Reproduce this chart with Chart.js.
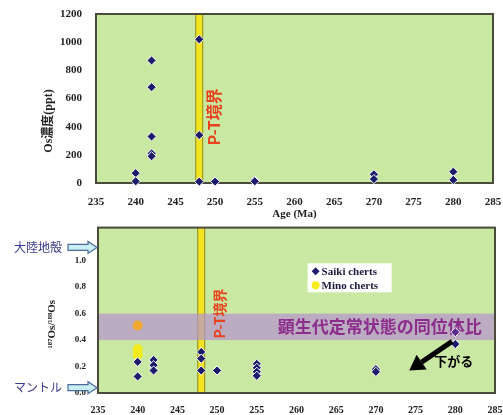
<!DOCTYPE html>
<html>
<head>
<meta charset="utf-8">
<script src="https://cdn.jsdelivr.net/npm/chart.js@4/dist/chart.umd.min.js"></script>
<style>
  html, body { margin: 0; padding: 0; background: #fff; }
  #wrap { position: relative; width: 503px; height: 415px; overflow: hidden; background: #fff; }
  #osChart { position: absolute; left: 0; top: 0; }
  #ratioChart { position: absolute; left: 0; top: 222px; }
</style>
</head>
<body>
<div id="wrap">
  <canvas id="osChart" width="503" height="222" style="width:503px;height:222px"></canvas>
  <canvas id="ratioChart" width="503" height="193" style="width:503px;height:193px"></canvas>
</div>
<script>
// ---- data ----
const ageTicks = [235, 240, 245, 250, 255, 260, 265, 270, 275, 280, 285];
const concTicks = [0, 200, 400, 600, 800, 1000, 1200];
const ratioTicks = [0, 0.2, 0.4, 0.6, 0.8, 1.0];

// Os concentration (ppt), Saiki cherts
const osAges = [240, 240, 242, 242, 242, 242, 242, 248, 248, 248, 250, 255, 255, 270, 270, 280, 280];
const osPpt  = [70, 12, 870, 680, 330, 210, 190, 1020, 340, 10, 10, 18, 12, 62, 28, 80, 22];

// 187Os/188Os ratios
const saikiAges   = [240, 240, 242, 242, 242, 248, 248, 248, 250, 255, 255, 255, 255, 270, 270, 280, 280];
const saikiRatios = [0.235, 0.125, 0.25, 0.21, 0.17, 0.31, 0.26, 0.17, 0.17, 0.22, 0.19, 0.16, 0.13, 0.18, 0.16, 0.46, 0.37];
const minoAges   = [240, 240, 240];
const minoRatios = [0.51, 0.33, 0.29];

const ptAge = 248;                 // P-T boundary
const ptBand = [247.5, 248.5];
const steadyState = [0.4, 0.6];    // Phanerozoic steady-state ratio range
const crustRatio = 1.10;
const mantleRatio = 0.04;

// ---- styles ----
const SERIF = "'Liberation Serif', 'DejaVu Serif', serif";
const JP = "'Noto Sans CJK JP', sans-serif";
const MIX = "'Liberation Serif', 'Noto Sans CJK JP', serif";
const plotGreen = '#c9e8a2';
const frameColor = '#4a4a3c';
const boundaryYellow = '#f2e41e';
const navy = '#1c1c6b';
const minoYellow = '#f4ec1c';
const ptRed = '#e8421e';
const bandColor = 'rgba(183,147,208,0.70)';

function paintBackground(chart) {
  const {ctx, chartArea: a} = chart;
  ctx.save();
  ctx.fillStyle = plotGreen;
  ctx.fillRect(a.left, a.top, a.width, a.height);
  ctx.restore();
}

function paintBoundary(chart) {
  const {ctx, chartArea: a, scales: {x}} = chart;
  const x0 = x.getPixelForValue(ptBand[0]);
  const x1 = x.getPixelForValue(ptBand[1]);
  ctx.save();
  ctx.fillStyle = boundaryYellow;
  ctx.fillRect(x0, a.top, x1 - x0, a.height);
  ctx.strokeStyle = '#8a8a2e';
  ctx.lineWidth = 1;
  ctx.beginPath();
  ctx.moveTo(x0 + 0.5, a.top); ctx.lineTo(x0 + 0.5, a.bottom);
  ctx.moveTo(x1 - 0.5, a.top); ctx.lineTo(x1 - 0.5, a.bottom);
  ctx.stroke();
  ctx.restore();
}

function paintFrame(chart) {
  const {ctx, chartArea: a} = chart;
  ctx.save();
  ctx.strokeStyle = frameColor;
  ctx.lineWidth = 2;
  ctx.strokeRect(a.left, a.top, a.width, a.height);
  ctx.restore();
}

function rotatedText(ctx, text, x, y, font, color) {
  ctx.save();
  ctx.translate(x, y);
  ctx.rotate(-Math.PI / 2);
  ctx.font = font;
  ctx.fillStyle = color;
  ctx.textAlign = 'center';
  ctx.textBaseline = 'middle';
  ctx.fillText(text, 0, 0);
  ctx.restore();
}

function blockArrow(ctx, xTail, xTip, y) {
  const shaft = 3, head = 6, headLen = 9;
  ctx.save();
  ctx.beginPath();
  ctx.moveTo(xTail, y - shaft);
  ctx.lineTo(xTip - headLen, y - shaft);
  ctx.lineTo(xTip - headLen, y - head);
  ctx.lineTo(xTip, y);
  ctx.lineTo(xTip - headLen, y + head);
  ctx.lineTo(xTip - headLen, y + shaft);
  ctx.lineTo(xTail, y + shaft);
  ctx.closePath();
  ctx.fillStyle = '#c9eef3';
  ctx.fill();
  ctx.strokeStyle = '#4a6a9a';
  ctx.lineWidth = 1.2;
  ctx.stroke();
  ctx.restore();
}

// fixes scale box sizes so the plot frames line up
function fixBox(size, isX) {
  return s => {
    if (isX) s.height = size; else s.width = size;
    s.paddingTop = 0; s.paddingBottom = 0; s.paddingLeft = 0; s.paddingRight = 0;
  };
}

function tickSetter(values) {
  return s => { s.ticks = values.map(v => ({value: v})); };
}

// ---- upper chart: Os concentration ----
const osDecor = {
  id: 'osDecor',
  beforeDatasetsDraw(chart) {
    const {ctx, chartArea: a, scales: {x, y}} = chart;
    paintBackground(chart);
    paintBoundary(chart);
    paintFrame(chart);
    rotatedText(ctx, 'P-T境界', x.getPixelForValue(ptAge) + 15, y.getPixelForValue(470), `bold 16px ${JP}`, ptRed);
    rotatedText(ctx, 'Os濃度(ppt)', a.left - 47, y.getPixelForValue(440), `bold 12px ${MIX}`, '#222');
  }
};

new Chart(document.getElementById('osChart'), {
  type: 'scatter',
  data: {
    datasets: [{
      label: 'Saiki cherts',
      data: osAges.map((v, i) => ({x: v, y: osPpt[i]})),
      pointStyle: 'rectRot',
      pointRadius: 4.6,
      backgroundColor: navy,
      borderColor: '#ffffff',
      borderWidth: 1,
      clip: false
    }]
  },
  options: {
    responsive: false,
    animation: false,
    events: [],
    layout: {padding: {left: 0, right: 10, top: 14, bottom: 0}},
    plugins: {legend: {display: false}, tooltip: {enabled: false}},
    scales: {
      x: {
        type: 'linear', min: 235, max: 285,
        afterBuildTicks: tickSetter(ageTicks),
        afterFit: fixBox(39, true),
        grid: {display: false, drawTicks: false},
        border: {display: false},
        ticks: {padding: 13, autoSkip: false, maxRotation: 0, color: '#222',
                font: {family: SERIF, size: 11, weight: 'bold'},
                callback: v => String(v)},
        title: {display: true, text: 'Age (Ma)', color: '#222',
                font: {family: SERIF, size: 11, weight: 'bold'}, padding: {top: 0, bottom: 1}}
      },
      y: {
        min: 0, max: 1200,
        afterBuildTicks: tickSetter(concTicks),
        afterFit: fixBox(96, false),
        grid: {display: false, drawTicks: false},
        border: {display: false},
        ticks: {padding: 14, color: '#222', font: {family: SERIF, size: 11, weight: 'bold'},
                callback: v => String(v)}
      }
    }
  },
  plugins: [osDecor]
});

// ---- lower chart: 187Os/188Os ----
const legendAnchor = {x: 261.4, y: 0.98};
const dropArrow = {from: [279.6, 0.39], to: [274.2, 0.17], label: '下がる', labelAt: [279.8, 0.245]};

const ratioDecor = {
  id: 'ratioDecor',
  beforeDatasetsDraw(chart) {
    const {ctx, chartArea: a, scales: {x, y}} = chart;
    paintBackground(chart);
    paintBoundary(chart);
    // steady-state band
    const yb0 = y.getPixelForValue(steadyState[1]);
    const yb1 = y.getPixelForValue(steadyState[0]);
    ctx.save();
    ctx.fillStyle = bandColor;
    ctx.fillRect(a.left, yb0, a.width, yb1 - yb0);
    ctx.restore();
    paintFrame(chart);

    ctx.save();
    ctx.font = `bold 17px ${JP}`;
    ctx.fillStyle = '#8c2d8c';
    ctx.textAlign = 'center';
    ctx.textBaseline = 'middle';
    ctx.fillText('顕生代定常状態の同位体比', x.getPixelForValue(270.5), y.getPixelForValue((steadyState[0] + steadyState[1]) / 2));
    ctx.restore();

    rotatedText(ctx, 'P-T境界', x.getPixelForValue(ptAge) + 18, y.getPixelForValue(0.6), `bold 14px ${JP}`, ptRed);
    rotatedText(ctx, '¹⁸⁷Os/¹⁸⁸Os', a.left - 46, y.getPixelForValue(0.52), `bold 11px ${SERIF}`, '#222');

    // reference arrows left of the axis
    [[crustRatio, '大陸地殻'], [mantleRatio, 'マントル']].forEach(([v, t]) => {
      const py = y.getPixelForValue(v);
      blockArrow(ctx, a.left - 30, a.left - 1, py);
      ctx.save();
      ctx.font = `12px ${JP}`;
      ctx.fillStyle = '#3b3b8e';
      ctx.textAlign = 'right';
      ctx.textBaseline = 'middle';
      ctx.fillText(t, a.left - 36, py);
      ctx.restore();
    });
  },
  afterDatasetsDraw(chart) {
    const {ctx, scales: {x, y}} = chart;
    // legend box
    const lx = x.getPixelForValue(legendAnchor.x);
    const ly = y.getPixelForValue(legendAnchor.y);
    ctx.save();
    ctx.fillStyle = '#ffffff';
    ctx.fillRect(lx, ly, 84, 29);
    const order = [0, 1];
    order.forEach((di, row) => {
      const ds = chart.data.datasets[di];
      const cy = ly + 8 + row * 14;
      const cx = lx + 8;
      ctx.fillStyle = ds.legendColor;
      ctx.beginPath();
      if (ds.pointStyle === 'rectRot') {
        ctx.moveTo(cx, cy - 4); ctx.lineTo(cx + 4, cy); ctx.lineTo(cx, cy + 4); ctx.lineTo(cx - 4, cy);
        ctx.closePath();
      } else {
        ctx.arc(cx, cy, 4, 0, Math.PI * 2);
      }
      ctx.fill();
      ctx.font = `bold 11px ${SERIF}`;
      ctx.fillStyle = '#1a1a40';
      ctx.textAlign = 'left';
      ctx.textBaseline = 'middle';
      ctx.fillText(ds.label, cx + 6, cy + 1);
    });
    ctx.restore();

    // "decreasing" arrow
    const p0 = [x.getPixelForValue(dropArrow.from[0]), y.getPixelForValue(dropArrow.from[1])];
    const p1 = [x.getPixelForValue(dropArrow.to[0]), y.getPixelForValue(dropArrow.to[1])];
    const ang = Math.atan2(p1[1] - p0[1], p1[0] - p0[0]);
    const headLen = 15, headW = 9;
    const bx = p1[0] - headLen * Math.cos(ang), by = p1[1] - headLen * Math.sin(ang);
    ctx.save();
    ctx.strokeStyle = '#000';
    ctx.lineWidth = 5;
    ctx.beginPath();
    ctx.moveTo(p0[0], p0[1]);
    ctx.lineTo(bx, by);
    ctx.stroke();
    ctx.fillStyle = '#000';
    ctx.beginPath();
    ctx.moveTo(p1[0], p1[1]);
    ctx.lineTo(bx + headW * Math.sin(ang), by - headW * Math.cos(ang));
    ctx.lineTo(bx - headW * Math.sin(ang), by + headW * Math.cos(ang));
    ctx.closePath();
    ctx.fill();
    ctx.font = `bold 13px ${JP}`;
    ctx.textAlign = 'center';
    ctx.textBaseline = 'middle';
    ctx.fillText(dropArrow.label, x.getPixelForValue(dropArrow.labelAt[0]), y.getPixelForValue(dropArrow.labelAt[1]));
    ctx.restore();
  }
};

const inBand = v => v >= steadyState[0] && v <= steadyState[1];

new Chart(document.getElementById('ratioChart'), {
  type: 'scatter',
  data: {
    datasets: [{
      label: 'Saiki cherts',
      data: saikiAges.map((v, i) => ({x: v, y: saikiRatios[i]})),
      pointStyle: 'rectRot',
      pointRadius: 4.6,
      legendColor: navy,
      backgroundColor: c => (c.raw && inBand(c.raw.y)) ? '#5a2a8c' : navy,
      borderColor: '#ffffff',
      borderWidth: 1,
      clip: false
    }, {
      label: 'Mino cherts',
      data: minoAges.map((v, i) => ({x: v, y: minoRatios[i]})),
      pointStyle: 'circle',
      pointRadius: 5,
      legendColor: minoYellow,
      backgroundColor: c => (c.raw && inBand(c.raw.y)) ? '#f0a830' : minoYellow,
      borderWidth: 0,
      clip: false
    }]
  },
  options: {
    responsive: false,
    animation: false,
    events: [],
    layout: {padding: {left: 0, right: 8, top: 1, bottom: 0}},
    plugins: {legend: {display: false}, tooltip: {enabled: false}},
    scales: {
      x: {
        type: 'linear', min: 235, max: 285,
        afterBuildTicks: tickSetter(ageTicks),
        afterFit: fixBox(22, true),
        grid: {display: false, drawTicks: false},
        border: {display: false},
        ticks: {padding: 11, autoSkip: false, maxRotation: 0, color: '#222',
                font: {family: SERIF, size: 10, weight: 'bold'},
                callback: v => String(v)}
      },
      y: {
        min: 0, max: 1.25,
        afterBuildTicks: tickSetter(ratioTicks),
        afterFit: fixBox(98, false),
        grid: {display: false, drawTicks: false},
        border: {display: false},
        ticks: {padding: 12, color: '#222', font: {family: SERIF, size: 9, weight: 'bold'},
                callback: v => Number(v).toFixed(1)}
      }
    }
  },
  plugins: [ratioDecor]
});
</script>
</body>
</html>
